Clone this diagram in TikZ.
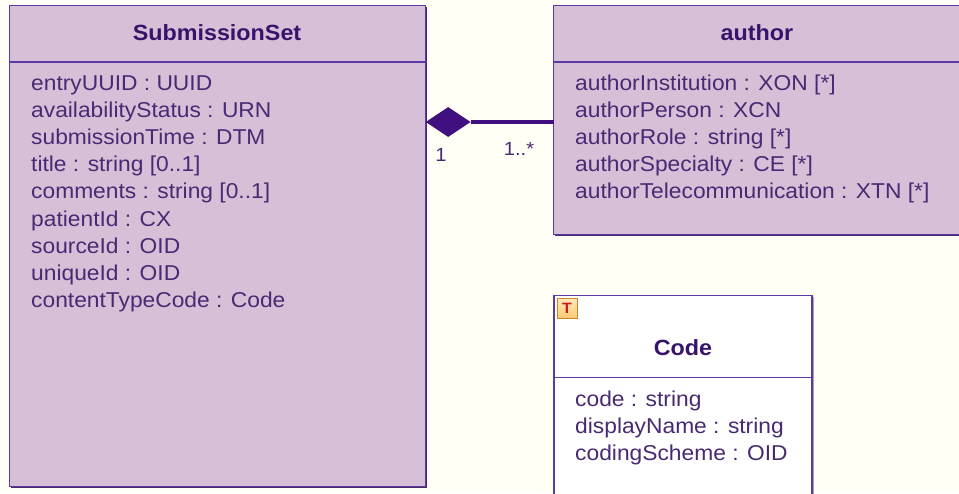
\documentclass[tikz,border=0pt]{standalone}
\usepackage{fontspec}
\setmainfont[FakeStretch=1.06]{Liberation Sans}
\usetikzlibrary{shapes.geometric}
\definecolor{bgc}{RGB}{255,255,246}
\definecolor{boxfill}{RGB}{216,191,216}
\definecolor{boxline}{RGB}{92,58,165}
\definecolor{shadowc}{RGB}{70,45,105}
\definecolor{titlec}{RGB}{55,20,105}
\definecolor{attrc}{RGB}{72,42,115}
\definecolor{linkc}{RGB}{64,16,128}
\definecolor{iconfill}{RGB}{252,220,140}
\definecolor{iconline}{RGB}{210,130,40}
\definecolor{iconT}{RGB}{200,30,30}
\tikzset{
  classbox/.style={draw=boxline, line width=1.4pt, fill=boxfill, anchor=north west, inner sep=0pt, outer sep=0pt},
  whitebox/.style={classbox, fill=white},
  shadowbox/.style={fill=shadowc, anchor=north west, inner sep=0pt, outer sep=0pt},
  divider/.style={draw=boxline, line width=1.4pt},
  ctitle/.style={font=\fontsize{22}{25}\selectfont\bfseries, text=titlec, inner sep=0pt},
  attr/.style={font=\fontsize{21.5}{27}\selectfont, text=attrc, anchor=base west, inner sep=0pt},
  mult/.style={font=\fontsize{19}{22}\selectfont, text=attrc, inner sep=0pt},
  compdiamond/.style={diamond, fill=linkc, inner sep=0pt, minimum width=45pt, minimum height=30pt, aspect=1.5},
  link/.style={draw=linkc, line width=3.2pt},
}
\begin{document}
\begin{tikzpicture}[x=1pt,y=-1pt]
\useasboundingbox[fill=bgc] (0,0) rectangle (959,493);
% SubmissionSet
\node[shadowbox, minimum width=416pt, minimum height=481pt] (sssh) at (10.7,6.7) {};
\node[classbox, minimum width=416pt, minimum height=481pt] (ss) at (9.5,5.5) {};
\coordinate (ssdl) at (9.5,62);
\coordinate (ssdr) at (425.5,62);
\draw[divider] (ssdl) -- (ssdr);
\node[ctitle] (sst) at (217,33) {SubmissionSet};
\foreach \t [count=\i] in {entryUUID : UUID, availabilityStatus : URN, submissionTime : DTM, title : string [0..1], comments : string [0..1], patientId : CX, sourceId : OID, uniqueId : OID, contentTypeCode : Code}
  \node[attr] (ssa\i) at (31,{90+27.2*(\i-1)}) {\t};
% author
\node[shadowbox, minimum width=420pt, minimum height=229pt] (ausha) at (554.7,6.7) {};
\node[classbox, minimum width=420pt, minimum height=229pt] (au) at (553.5,5.5) {};
\coordinate (audl) at (553.5,62);
\coordinate (audr) at (973.5,62);
\draw[divider] (audl) -- (audr);
\node[ctitle] (aut) at (757,33) {author};
\foreach \t [count=\i] in {authorInstitution : XON [*], authorPerson : XCN, authorRole : string [*], authorSpecialty : CE [*], authorTelecommunication : XTN [*]}
  \node[attr] (aua\i) at (575,{90+27.2*(\i-1)}) {\t};
% Code
\node[shadowbox, fill=gray!70, minimum width=258pt, minimum height=220pt] (cdsh) at (555.5,297) {};
\node[whitebox, minimum width=258pt, minimum height=220pt] (cd) at (554,295.5) {};
\coordinate (cddl) at (554,377.5);
\coordinate (cddr) at (812,377.5);
\draw[divider] (cddl) -- (cddr);
\node[draw=iconline, line width=1.2pt, top color=iconfill!60!white, bottom color=iconfill!80!orange, minimum width=20pt, minimum height=20pt, inner sep=0pt, anchor=north west, text=iconT, font=\fontsize{15}{15}\selectfont\bfseries] (icon) at (556.5,298) {T};
\node[ctitle] (cdt) at (683,348) {Code};
\foreach \t [count=\i] in {code : string, displayName : string, codingScheme : OID}
  \node[attr] (cda\i) at (575,{406+27.2*(\i-1)}) {\t};
% composition
\node[compdiamond, anchor=west] (dia) at (ss.east |- 0,122) {};
\coordinate (aul) at (au.west |- 0,122);
\draw[link] (dia.east) -- (aul);
\node[mult] (m1) at (441,155) {1};
\node[mult] (m2) at (519,149) {1..*};
\end{tikzpicture}
\end{document}
